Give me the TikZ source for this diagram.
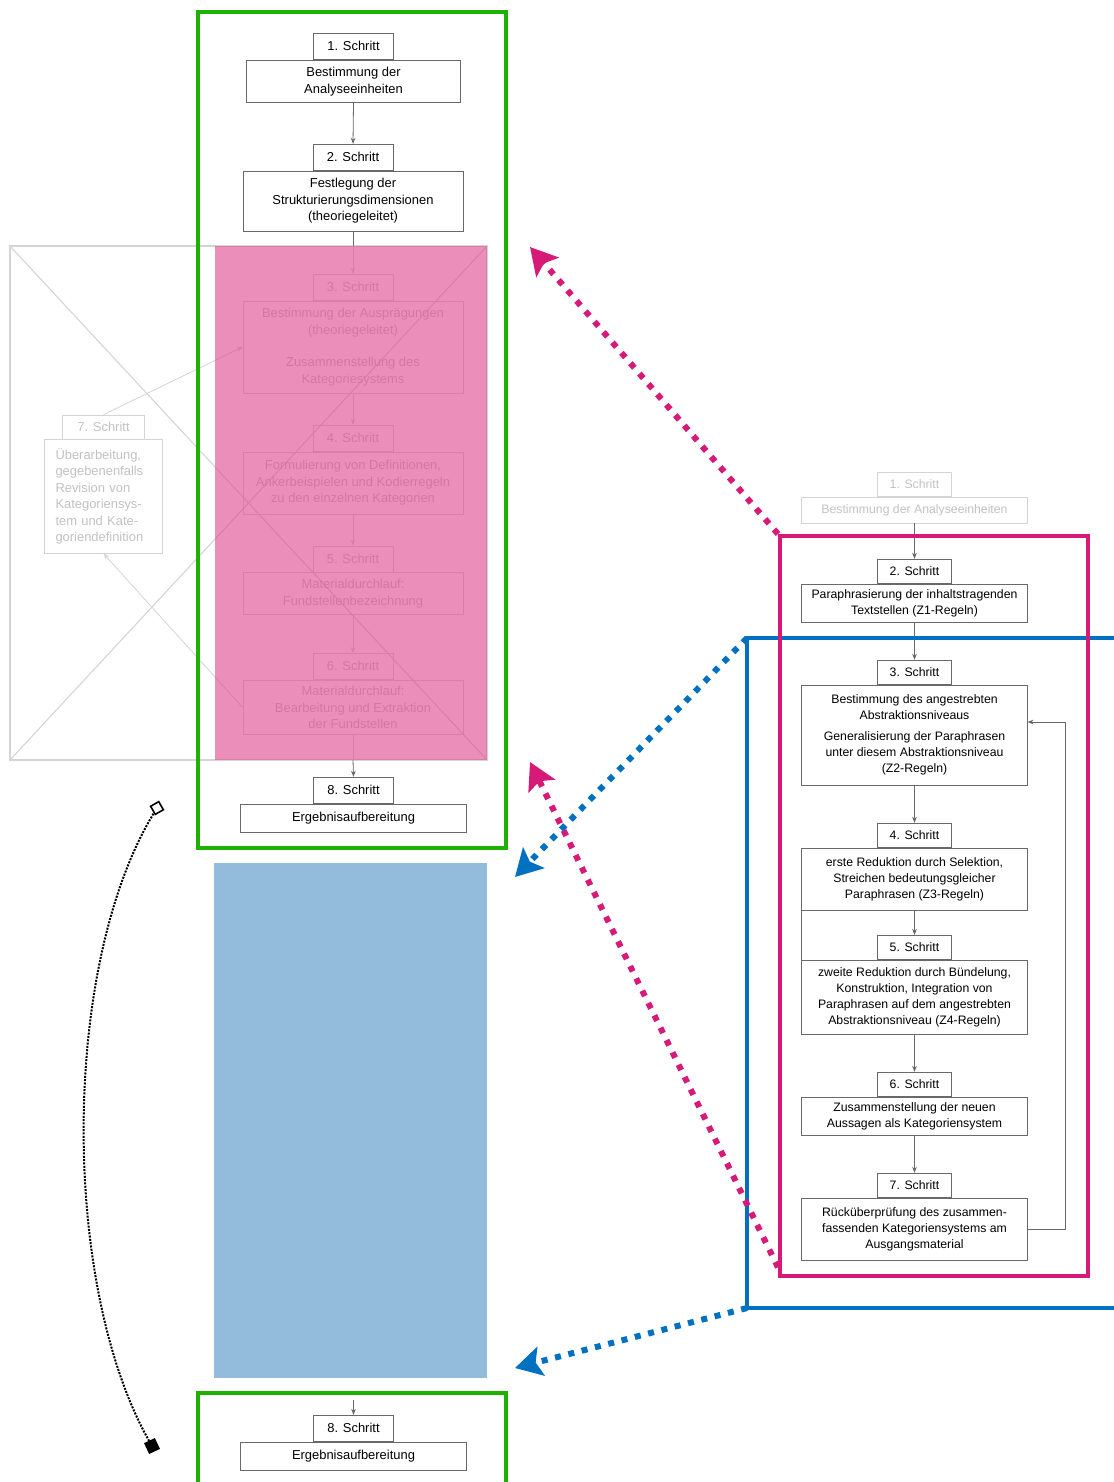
\documentclass[tikz,border=0pt]{standalone}
\usepackage{fontspec}
\setmainfont{Liberation Sans}
\usepackage{xcolor}
\usepackage{tikz}
\usetikzlibrary{arrows.meta, positioning}
\definecolor{figgreen}{RGB}{30,178,0}
\definecolor{figmagenta}{RGB}{215,25,120}
\definecolor{figblue}{RGB}{0,112,192}
\definecolor{figlightblue}{RGB}{146,187,220}
\definecolor{figpink}{RGB}{223,68,140}
\definecolor{figframe}{RGB}{105,105,105}
\definecolor{figfade}{RGB}{212,212,212}
\tikzstyle{schritt} = [draw=figframe, fill=white, line width=0.6pt, inner sep=0pt, minimum width=60pt, minimum height=19.5pt, font=\fontsize{9.7}{12.4}\selectfont]
\tikzstyle{inhalt} = [draw=figframe, fill=white, line width=0.6pt, inner sep=0pt, align=center, minimum width=165pt, font=\fontsize{9.7}{12.4}\selectfont]
\tikzstyle{rschritt} = [schritt, minimum width=55pt, minimum height=18pt, font=\fontsize{9.2}{12}\selectfont]
\tikzstyle{rinhalt} = [inhalt, minimum width=169pt, font=\fontsize{9.2}{12}\selectfont]
\tikzstyle{blass} = [draw=figfade, text=black!24, fill=none]
\tikzstyle{arrow} = [-{Stealth[length=4.5pt, width=3.5pt]}, line width=0.6pt, draw=figframe]
\tikzstyle{fadearrow} = [arrow, draw=figfade]
\tikzstyle{rahmen} = [draw, line width=3pt, inner sep=0pt]
\tikzstyle{pfeilpink} = [-{Stealth[length=20pt, width=22pt, inset=4pt]}, line width=4.5pt, dash pattern=on 4.5pt off 5.8pt, draw=figmagenta]
\tikzstyle{pfeilblau} = [pfeilpink, draw=figblue]

\begin{document}
\begin{tikzpicture}[x=0.75pt, y=-0.75pt]
    \useasboundingbox[fill=white] (0,0) rectangle (1114,1482);

    % verblasste Vorlage links
    \node[draw=figfade, line width=0.8pt, minimum width=357.75pt, minimum height=385.5pt, inner sep=0pt] (kreuz) at (248.5,503) {};
    \draw[figfade, line width=0.8pt] (kreuz.north west) -- (kreuz.south east);
    \draw[figfade, line width=0.8pt] (kreuz.south west) -- (kreuz.north east);

    \node[inhalt, blass, minimum height=69pt] (b3) at (353,347)
        {Bestimmung der Ausprägungen\\(theoriegeleitet)\\[12pt]Zusammenstellung des\\Kategoriesystems};
    \node[schritt, blass, above=0pt of b3] (s3) {3. Schritt};
    \node[inhalt, blass, minimum height=46.5pt] (b4) at (353,483)
        {Formulierung von Definitionen,\\Ankerbeispielen und Kodierregeln\\zu den einzelnen Kategorien};
    \node[schritt, blass, above=0pt of b4] (s4) {4. Schritt};
    \node[inhalt, blass, minimum height=31pt] (b5) at (353,593.5)
        {Materialdurchlauf:\\Fundstellenbezeichnung};
    \node[schritt, blass, above=0pt of b5] (s5) {5. Schritt};
    \node[inhalt, blass, minimum height=41pt] (b6) at (353,707.5)
        {Materialdurchlauf:\\Bearbeitung und Extraktion\\der Fundstellen};
    \node[schritt, blass, above=0pt of b6] (s6) {6. Schritt};
    \node[inhalt, blass, align=left, text width=72pt, minimum width=88pt, minimum height=85pt] (b7) at (103.5,496.5)
        {Überarbeitung,\\gegebenenfalls\\Revision von\\Kategoriensys-\\tem und Kate-\\goriendefinition};
    \node[schritt, blass, minimum width=62pt, minimum height=18pt, above=0pt of b7] (s7) {7. Schritt};

    \node[inhalt, minimum width=161pt, minimum height=32pt] (b1) at (353.5,81.5)
        {Bestimmung der\\Analyseeinheiten};
    \node[schritt, above=0pt of b1] (s1) {1. Schritt};
    \node[inhalt, minimum height=45pt] (b2) at (353,201)
        {Festlegung der\\Strukturierungsdimensionen\\(theoriegeleitet)};
    \node[schritt, above=0pt of b2] (s2) {2. Schritt};
    \node[inhalt, minimum width=170pt, minimum height=21pt] (b8) at (353.5,818) {Ergebnisaufbereitung};
    \node[schritt, above=0pt of b8] (s8) {8. Schritt};

    \coordinate (obenein) at (353,246);
    \coordinate (untenaus) at (353,760);
    \draw[fadearrow] (obenein) -- (s3.north);
    \draw[fadearrow] (b3.south) -- (s4.north);
    \draw[fadearrow] (b4.south) -- (s5.north);
    \draw[fadearrow] (b5.south) -- (s6.north);
    \draw[figfade, line width=0.6pt] (b6.south) -- (untenaus);
    \draw[fadearrow] (s7.north) -- (b3.west);
    \draw[fadearrow] (b6.west) -- (b7.south);

    \node[fill=figpink, fill opacity=0.6, minimum width=204pt, minimum height=385.5pt, inner sep=0pt] (ueber) at (351,503) {};

    \draw[arrow] (b1.south) -- (s2.north);
    \draw[line width=0.6pt, figframe] (b2.south) -- (obenein);
    \draw[arrow] (untenaus) -- (s8.north);
    \node[rahmen, draw=figgreen, minimum width=231pt, minimum height=627pt] (gruenA) at (352,430) {};

    % unten: Platzhalter und Schritt 8
    \node[fill=figlightblue, minimum width=204.75pt, minimum height=386.25pt, inner sep=0pt] (blaufeld) at (350.5,1120.5) {};
    \node[inhalt, minimum width=170pt, minimum height=21pt] (b8b) at (353.5,1456) {Ergebnisaufbereitung};
    \node[schritt, above=0pt of b8b] (s8b) {8. Schritt};
    \coordinate (zulauf) at (353.5,1400);
    \draw[arrow] (zulauf) -- (s8b.north);
    \draw[figgreen, line width=3pt] (198,1490) -- (198,1393) -- (506,1393) -- (506,1490);

    \coordinate (kA) at (157,808);
    \coordinate (kB) at (152,1446);
    \draw[densely dotted, line width=1.5pt] (kA) .. controls (60,960) and (60,1290) .. (kB);
    \node[draw=black, fill=white, line width=1.2pt, minimum size=7pt, inner sep=0pt, rotate=30] (griffA) at (kA) {};
    \node[fill=black, minimum size=9pt, inner sep=0pt, rotate=25] (griffB) at (kB) {};

    % rechte Seite
    \node[rinhalt, blass, minimum height=19.5pt] (r1) at (914.5,510) {Bestimmung der Analyseeinheiten};
    \node[rschritt, blass, above=0pt of r1] (rs1) {1. Schritt};
    \node[rinhalt, minimum height=28.5pt] (r2) at (914.5,603)
        {Paraphrasierung der inhaltstragenden\\Textstellen (Z1-Regeln)};
    \node[rschritt, above=0pt of r2] (rs2) {2. Schritt};
    \node[rinhalt, minimum height=75pt] (r3) at (914.5,735)
        {Bestimmung des angestrebten\\Abstraktionsniveaus\\[4pt]Generalisierung der Paraphrasen\\unter diesem Abstraktionsniveau\\(Z2-Regeln)};
    \node[rschritt, above=0pt of r3] (rs3) {3. Schritt};
    \node[rinhalt, minimum height=46.5pt] (r4) at (914.5,879)
        {erste Reduktion durch Selektion,\\Streichen bedeutungsgleicher\\Paraphrasen (Z3-Regeln)};
    \node[rschritt, above=0pt of r4] (rs4) {4. Schritt};
    \node[rinhalt, minimum height=56pt] (r5) at (914.5,997.5)
        {zweite Reduktion durch Bündelung,\\Konstruktion, Integration von\\Paraphrasen auf dem angestrebten\\Abstraktionsniveau (Z4-Regeln)};
    \node[rschritt, above=0pt of r5] (rs5) {5. Schritt};
    \node[rinhalt, minimum height=28.5pt] (r6) at (914.5,1116)
        {Zusammenstellung der neuen\\Aussagen als Kategoriensystem};
    \node[rschritt, above=0pt of r6] (rs6) {6. Schritt};
    \node[rinhalt, minimum height=46.5pt] (r7) at (914.5,1229)
        {Rücküberprüfung des zusammen-\\fassenden Kategoriensystems am\\Ausgangsmaterial};
    \node[rschritt, above=0pt of r7] (rs7) {7. Schritt};

    \draw[arrow] (r1.south) -- (rs2.north);
    \draw[arrow] (r2.south) -- (rs3.north);
    \draw[arrow] (r3.south) -- (rs4.north);
    \draw[arrow] (r4.south) -- (rs5.north);
    \draw[line width=0.6pt, figframe] (r4.south west) -- (r5.north west);
    \draw[arrow] (r5.south) -- (rs6.north);
    \draw[arrow] (r6.south) -- (rs7.north);
    \coordinate (rueck) at (1065,722);
    \draw[arrow] (r7.east) -| (rueck) -- (rueck -| r3.east);

    \coordinate (blauOL) at (747,638);
    \coordinate (blauUL) at (747,1308);
    \draw[figblue, line width=3pt] (1120,638) -- (blauOL) -- (blauUL) -- (1120,1308);
    \node[rahmen, draw=figmagenta, minimum width=231pt, minimum height=555pt] (zsf) at (934,906) {};

    \coordinate (zielA) at (530,247);
    \coordinate (zielB) at (530,762);
    \coordinate (zielC) at (515,877);
    \coordinate (zielD) at (515,1368);
    \draw[pfeilpink] (zsf.north west) -- (zielA);
    \draw[pfeilpink] ([yshift=8pt]zsf.south west) -- (zielB);
    \draw[pfeilblau] (blauOL) -- (zielC);
    \draw[pfeilblau] (blauUL) -- (zielD);
\end{tikzpicture}
\end{document}
